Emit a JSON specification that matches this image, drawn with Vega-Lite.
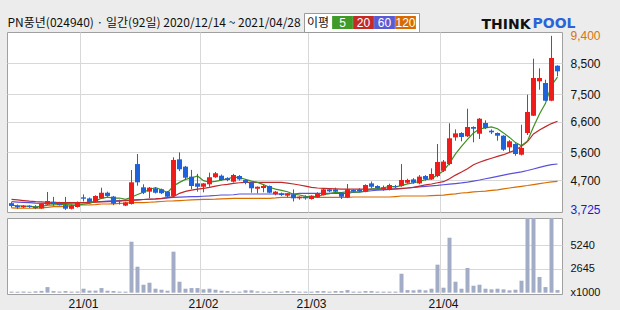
{
"$schema": "https://vega.github.io/schema/vega-lite/v6.json",
"background": "#ececec",
"padding": {"left": 6, "top": 12, "right": 21, "bottom": 2},
"spacing": 0,
"config": {
  "view": {"fill": "white", "stroke": "#a0a0a0", "strokeWidth": 1},
  "font": "Liberation Sans",
  "axis": {"gridColor": "#d8d8d8", "gridWidth": 1, "ticks": false, "domain": false, "labelColor": "#111"}
},
"datasets": {"p": [
{"d":"2020-12-14","o":3945,"h":3980,"l":3800,"c":3855,"v":120,"m5":3870,"m20":4071,"m60":3993,"m120":3790},
{"d":"2020-12-15","o":3862,"h":3900,"l":3760,"c":3810,"v":110,"m5":3860,"m20":4050,"m60":3980,"m120":3785},
{"d":"2020-12-16","o":3810,"h":3880,"l":3790,"c":3862,"v":130,"m5":3850,"m20":4030,"m60":3970,"m120":3780},
{"d":"2020-12-17","o":3862,"h":3880,"l":3790,"c":3820,"v":100,"m5":3840,"m20":4010,"m60":3960,"m120":3780},
{"d":"2020-12-18","o":3830,"h":3880,"l":3750,"c":3780,"v":150,"m5":3825,"m20":3995,"m60":3945,"m120":3780},
{"d":"2020-12-21","o":3770,"h":3930,"l":3760,"c":3918,"v":200,"m5":3838,"m20":3985,"m60":3940,"m120":3790},
{"d":"2020-12-22","o":3900,"h":4310,"l":3880,"c":4015,"v":620,"m5":3879,"m20":3975,"m60":3940,"m120":3810},
{"d":"2020-12-23","o":3990,"h":4150,"l":3860,"c":3918,"v":180,"m5":3890,"m20":3970,"m60":3940,"m120":3830},
{"d":"2020-12-24","o":3940,"h":3990,"l":3870,"c":3880,"v":130,"m5":3902,"m20":3965,"m60":3940,"m120":3830},
{"d":"2020-12-28","o":3880,"h":4150,"l":3725,"c":3765,"v":180,"m5":3899,"m20":3962,"m60":3940,"m120":3840},
{"d":"2020-12-29","o":3760,"h":3900,"l":3740,"c":3870,"v":120,"m5":3890,"m20":3960,"m60":3945,"m120":3860},
{"d":"2020-12-30","o":3820,"h":4000,"l":3800,"c":3975,"v":130,"m5":3882,"m20":3960,"m60":3950,"m120":3885},
{"d":"2021-01-04","o":4135,"h":4230,"l":4000,"c":4090,"v":440,"m5":3916,"m20":3960,"m60":3960,"m120":3885},
{"d":"2021-01-05","o":4100,"h":4130,"l":3960,"c":3985,"v":230,"m5":3937,"m20":3965,"m60":3975,"m120":3890},
{"d":"2021-01-06","o":3995,"h":4200,"l":3980,"c":4180,"v":230,"m5":4020,"m20":3975,"m60":3990,"m120":3900},
{"d":"2021-01-07","o":4100,"h":4450,"l":4090,"c":4285,"v":510,"m5":4103,"m20":3985,"m60":4000,"m120":3918},
{"d":"2021-01-08","o":4285,"h":4320,"l":4150,"c":4180,"v":220,"m5":4144,"m20":3995,"m60":4010,"m120":3918},
{"d":"2021-01-11","o":4160,"h":4180,"l":3880,"c":3930,"v":190,"m5":4112,"m20":4005,"m60":4020,"m120":3925},
{"d":"2021-01-12","o":4000,"h":4060,"l":3900,"c":3990,"v":120,"m5":4113,"m20":4015,"m60":4030,"m120":3935},
{"d":"2021-01-13","o":3865,"h":3990,"l":3850,"c":3970,"v":120,"m5":4071,"m20":4025,"m60":4040,"m120":3945},
{"d":"2021-01-14","o":3918,"h":5026,"l":3900,"c":4625,"v":5620,"m5":4139,"m20":4038,"m60":4048,"m120":3960},
{"d":"2021-01-15","o":5220,"h":5548,"l":4515,"c":4625,"v":2865,"m5":4228,"m20":4050,"m60":4055,"m120":3960},
{"d":"2021-01-18","o":4462,"h":4560,"l":4240,"c":4285,"v":880,"m5":4299,"m20":4065,"m60":4065,"m120":3965},
{"d":"2021-01-19","o":4320,"h":4470,"l":4110,"c":4450,"v":1100,"m5":4391,"m20":4075,"m60":4072,"m120":3975},
{"d":"2021-01-20","o":4430,"h":4460,"l":4260,"c":4285,"v":440,"m5":4454,"m20":4085,"m60":4080,"m120":3985},
{"d":"2021-01-21","o":4400,"h":4420,"l":4240,"c":4270,"v":330,"m5":4383,"m20":4100,"m60":4095,"m120":4000},
{"d":"2021-01-22","o":4320,"h":4340,"l":4130,"c":4155,"v":220,"m5":4289,"m20":4125,"m60":4115,"m120":4015},
{"d":"2021-01-25","o":4180,"h":5440,"l":4150,"c":5352,"v":4520,"m5":4502,"m20":4156,"m60":4136,"m120":4020},
{"d":"2021-01-26","o":5374,"h":5600,"l":4990,"c":5050,"v":1210,"m5":4622,"m20":4266,"m60":4145,"m120":4030},
{"d":"2021-01-27","o":5135,"h":5160,"l":4700,"c":4775,"v":440,"m5":4720,"m20":4330,"m60":4150,"m120":4040},
{"d":"2021-01-28","o":4810,"h":5030,"l":4400,"c":4505,"v":510,"m5":4767,"m20":4370,"m60":4155,"m120":4050},
{"d":"2021-01-29","o":4590,"h":4900,"l":4320,"c":4480,"v":510,"m5":4832,"m20":4400,"m60":4160,"m120":4060},
{"d":"2021-02-01","o":4480,"h":4600,"l":4300,"c":4590,"v":370,"m5":4680,"m20":4430,"m60":4170,"m120":4071},
{"d":"2021-02-02","o":4560,"h":4940,"l":4480,"c":4790,"v":440,"m5":4628,"m20":4460,"m60":4180,"m120":4071},
{"d":"2021-02-03","o":4790,"h":4960,"l":4770,"c":4920,"v":330,"m5":4657,"m20":4500,"m60":4195,"m120":4075},
{"d":"2021-02-04","o":4840,"h":4880,"l":4680,"c":4700,"v":220,"m5":4696,"m20":4537,"m60":4211,"m120":4085},
{"d":"2021-02-05","o":4760,"h":4790,"l":4660,"c":4700,"v":180,"m5":4740,"m20":4560,"m60":4211,"m120":4095},
{"d":"2021-02-08","o":4645,"h":4900,"l":4620,"c":4863,"v":120,"m5":4795,"m20":4592,"m60":4220,"m120":4103},
{"d":"2021-02-09","o":4830,"h":4860,"l":4680,"c":4720,"v":120,"m5":4781,"m20":4610,"m60":4244,"m120":4103},
{"d":"2021-02-10","o":4700,"h":4720,"l":4560,"c":4610,"v":260,"m5":4719,"m20":4625,"m60":4244,"m120":4103},
{"d":"2021-02-15","o":4625,"h":4640,"l":4286,"c":4430,"v":260,"m5":4665,"m20":4625,"m60":4244,"m120":4103},
{"d":"2021-02-16","o":4415,"h":4490,"l":4265,"c":4480,"v":150,"m5":4621,"m20":4625,"m60":4244,"m120":4103},
{"d":"2021-02-17","o":4440,"h":4540,"l":4300,"c":4505,"v":120,"m5":4549,"m20":4625,"m60":4244,"m120":4103},
{"d":"2021-02-18","o":4505,"h":4520,"l":4270,"c":4286,"v":100,"m5":4462,"m20":4625,"m60":4244,"m120":4103},
{"d":"2021-02-19","o":4234,"h":4340,"l":4200,"c":4320,"v":180,"m5":4404,"m20":4625,"m60":4244,"m120":4115},
{"d":"2021-02-22","o":4265,"h":4290,"l":4180,"c":4210,"v":120,"m5":4360,"m20":4620,"m60":4244,"m120":4136},
{"d":"2021-02-23","o":4190,"h":4270,"l":4140,"c":4265,"v":180,"m5":4317,"m20":4600,"m60":4244,"m120":4136},
{"d":"2021-02-24","o":4234,"h":4395,"l":4000,"c":4103,"v":180,"m5":4237,"m20":4570,"m60":4244,"m120":4136},
{"d":"2021-02-25","o":4103,"h":4170,"l":4060,"c":4155,"v":120,"m5":4211,"m20":4537,"m60":4266,"m120":4136},
{"d":"2021-02-26","o":4155,"h":4200,"l":4060,"c":4103,"v":120,"m5":4167,"m20":4500,"m60":4266,"m120":4136},
{"d":"2021-03-02","o":4080,"h":4200,"l":4060,"c":4190,"v":120,"m5":4163,"m20":4460,"m60":4266,"m120":4136},
{"d":"2021-03-03","o":4135,"h":4300,"l":4120,"c":4265,"v":180,"m5":4163,"m20":4440,"m60":4266,"m120":4136},
{"d":"2021-03-04","o":4210,"h":4420,"l":4200,"c":4395,"v":180,"m5":4222,"m20":4430,"m60":4266,"m120":4136},
{"d":"2021-03-05","o":4395,"h":4440,"l":4300,"c":4330,"v":120,"m5":4257,"m20":4420,"m60":4266,"m120":4136},
{"d":"2021-03-08","o":4395,"h":4450,"l":4290,"c":4320,"v":180,"m5":4300,"m20":4410,"m60":4266,"m120":4136},
{"d":"2021-03-09","o":4290,"h":4300,"l":4080,"c":4155,"v":180,"m5":4293,"m20":4400,"m60":4266,"m120":4136},
{"d":"2021-03-10","o":4130,"h":4570,"l":4110,"c":4400,"v":290,"m5":4320,"m20":4400,"m60":4266,"m120":4136},
{"d":"2021-03-11","o":4374,"h":4400,"l":4300,"c":4320,"v":120,"m5":4305,"m20":4400,"m60":4300,"m120":4146},
{"d":"2021-03-12","o":4390,"h":4430,"l":4300,"c":4330,"v":120,"m5":4305,"m20":4400,"m60":4310,"m120":4146},
{"d":"2021-03-15","o":4320,"h":4560,"l":4300,"c":4537,"v":180,"m5":4348,"m20":4400,"m60":4330,"m120":4146},
{"d":"2021-03-16","o":4590,"h":4650,"l":4440,"c":4480,"v":180,"m5":4413,"m20":4400,"m60":4350,"m120":4146},
{"d":"2021-03-17","o":4505,"h":4530,"l":4410,"c":4430,"v":120,"m5":4419,"m20":4400,"m60":4370,"m120":4146},
{"d":"2021-03-18","o":4400,"h":4520,"l":4350,"c":4460,"v":120,"m5":4447,"m20":4400,"m60":4380,"m120":4146},
{"d":"2021-03-19","o":4374,"h":4580,"l":4360,"c":4537,"v":120,"m5":4489,"m20":4405,"m60":4395,"m120":4146},
{"d":"2021-03-22","o":4500,"h":4540,"l":4440,"c":4470,"v":120,"m5":4475,"m20":4410,"m60":4410,"m120":4160},
{"d":"2021-03-23","o":4505,"h":5220,"l":4480,"c":4700,"v":2090,"m5":4519,"m20":4420,"m60":4425,"m120":4178},
{"d":"2021-03-24","o":4610,"h":4740,"l":4580,"c":4700,"v":290,"m5":4573,"m20":4440,"m60":4440,"m120":4178},
{"d":"2021-03-25","o":4720,"h":4760,"l":4580,"c":4610,"v":260,"m5":4603,"m20":4460,"m60":4460,"m120":4178},
{"d":"2021-03-26","o":4590,"h":4860,"l":4560,"c":4810,"v":330,"m5":4658,"m20":4500,"m60":4475,"m120":4178},
{"d":"2021-03-29","o":4830,"h":4860,"l":4680,"c":4720,"v":260,"m5":4708,"m20":4540,"m60":4490,"m120":4178},
{"d":"2021-03-30","o":4720,"h":5080,"l":4700,"c":4895,"v":440,"m5":4747,"m20":4570,"m60":4510,"m120":4190},
{"d":"2021-03-31","o":4830,"h":5874,"l":4790,"c":5287,"v":3090,"m5":4864,"m20":4610,"m60":4525,"m120":4200},
{"d":"2021-04-01","o":5000,"h":5352,"l":4960,"c":5300,"v":550,"m5":5002,"m20":4645,"m60":4545,"m120":4210},
{"d":"2021-04-02","o":5220,"h":6550,"l":5180,"c":6060,"v":6060,"m5":5252,"m20":4740,"m60":4565,"m120":4230},
{"d":"2021-04-05","o":6090,"h":6350,"l":5980,"c":6220,"v":1210,"m5":5552,"m20":4860,"m60":4585,"m120":4250},
{"d":"2021-04-06","o":6232,"h":6260,"l":5962,"c":6102,"v":440,"m5":5794,"m20":4960,"m60":4605,"m120":4276},
{"d":"2021-04-07","o":6125,"h":7024,"l":6100,"c":6428,"v":2720,"m5":6022,"m20":5070,"m60":4630,"m120":4290},
{"d":"2021-04-08","o":6428,"h":6450,"l":5929,"c":6372,"v":770,"m5":6236,"m20":5200,"m60":4665,"m120":4310},
{"d":"2021-04-09","o":6209,"h":6720,"l":6037,"c":6698,"v":880,"m5":6364,"m20":5280,"m60":4700,"m120":4325},
{"d":"2021-04-12","o":6558,"h":6646,"l":6360,"c":6395,"v":440,"m5":6399,"m20":5350,"m60":4740,"m120":4340},
{"d":"2021-04-13","o":6307,"h":6350,"l":6200,"c":6255,"v":370,"m5":6430,"m20":5410,"m60":4780,"m120":4360},
{"d":"2021-04-14","o":6232,"h":6250,"l":5981,"c":6144,"v":440,"m5":6373,"m20":5470,"m60":4820,"m120":4380},
{"d":"2021-04-15","o":6144,"h":6160,"l":5650,"c":5688,"v":370,"m5":6236,"m20":5525,"m60":4860,"m120":4410},
{"d":"2021-04-16","o":5766,"h":6000,"l":5580,"c":5962,"v":260,"m5":6089,"m20":5600,"m60":4900,"m120":4440},
{"d":"2021-04-19","o":5874,"h":5900,"l":5492,"c":5548,"v":330,"m5":5919,"m20":5680,"m60":4935,"m120":4470},
{"d":"2021-04-20","o":5525,"h":6503,"l":5500,"c":5743,"v":1320,"m5":5817,"m20":5800,"m60":4965,"m120":4495},
{"d":"2021-04-21","o":6232,"h":7481,"l":6167,"c":6917,"v":8800,"m5":5972,"m20":5950,"m60":5010,"m120":4520},
{"d":"2021-04-22","o":6796,"h":8654,"l":6786,"c":8025,"v":9500,"m5":6439,"m20":6200,"m60":5060,"m120":4550},
{"d":"2021-04-23","o":7918,"h":8340,"l":7644,"c":8025,"v":1730,"m5":6852,"m20":6330,"m60":5110,"m120":4580},
{"d":"2021-04-26","o":7862,"h":7970,"l":7270,"c":7285,"v":620,"m5":7199,"m20":6440,"m60":5160,"m120":4610},
{"d":"2021-04-27","o":7285,"h":9400,"l":7270,"c":8677,"v":9000,"m5":7786,"m20":6540,"m60":5200,"m120":4640},
{"d":"2021-04-28","o":8426,"h":8440,"l":8080,"c":8243,"v":290,"m5":8051,"m20":6614,"m60":5222,"m120":4657}
]},
"vconcat": [
{
  "width": 555, "height": 180,
  "data": {"name": "p"},
  "resolve": {"axis": {"x": "independent"}},
  "layer": [
    {
      "transform": [{"fold": ["m120", "m60", "m20", "m5"], "as": ["k", "val"]}],
      "mark": {"type": "line", "strokeWidth": 1.2, "clip": true},
      "encoding": {
        "x": {"field": "d", "type": "ordinal", "scale": {"paddingInner": 0, "paddingOuter": 0.25},
          "axis": {"orient": "top", "values": ["2021-01-04","2021-02-01","2021-03-02","2021-04-01"], "bandPosition": 0, "labels": false, "grid": true,
            "title": "PN풍년(024940) · 일간(92일) 2020/12/14 ~ 2021/04/28", "titleX": 0, "titleY": -6, "titleAnchor": "start", "titleAlign": "left", "titleBaseline": "alphabetic",
            "titleFont": "Noto Sans CJK KR", "titleFontSize": 12, "titleFontWeight": "normal", "titleColor": "#111"}},
        "y": {"field": "val", "type": "quantitative", "scale": {"domain": [3657, 9525], "nice": false, "zero": false},
          "axis": {"orient": "right", "values": [3725, 4700, 5600, 6600, 7500, 8500, 9400], "tickCount": 20, "format": ",d", "labelFontSize": 12, "labelPadding": 8, "labelOverlap": false, "grid": true,
            "gridColor": {"condition": {"test": "datum.value == 3725 || datum.value == 9400", "value": "rgba(0,0,0,0)"}, "value": "#d8d8d8"},
            "labelColor": {"condition": [{"test": "datum.value == 9400", "value": "#d9730d"}, {"test": "datum.value == 3725", "value": "#1c1ccc"}], "value": "#111"},
            "title": "THINK", "titleAngle": 0, "titleX": -81, "titleY": -4, "titleAlign": "left", "titleBaseline": "alphabetic", "titleFont": "DejaVu Sans", "titleFontSize": 14, "titleFontWeight": "bold", "titleColor": "#111"}},
        "color": {"field": "k", "type": "nominal",
          "scale": {"domain": ["m5", "m20", "m60", "m120"], "range": ["#3f8f22", "#c0282a", "#5a50dc", "#d96c00"]},
          "legend": {"orient": "none", "legendX": 297, "legendY": -19, "direction": "horizontal",
            "title": "이평", "titleOrient": "left", "titleFont": "Noto Sans CJK KR", "titleFontSize": 12, "titleFontWeight": "normal", "titleColor": "#111", "titlePadding": 6,
            "symbolType": "M-1.6,-1H1.6V1H-1.6Z", "symbolSize": 169, "symbolStrokeWidth": 0,
            "labelAlign": "center", "labelOffset": -6.5, "labelColor": "white", "labelFont": "Liberation Sans", "labelFontSize": 12,
            "labelExpr": "replace(datum.label, 'm', '')",
            "columnPadding": 0, "padding": 3, "fillColor": "white", "strokeColor": "#9a9a9a",
            "encode": {"symbols": {"update": {"fill": {"signal": "datum.value == 'm5' ? '#3f9a2a' : datum.value == 'm20' ? '#c42a26' : datum.value == 'm60' ? '#5a5ad2' : '#d96a00'"}, "fillOpacity": {"value": 1}, "opacity": {"value": 1}}}}}
        }
      }
    },
    {
      "mark": {"type": "rule", "strokeWidth": 1},
      "encoding": {
        "x": {"field": "d", "type": "ordinal", "scale": {"paddingInner": 0, "paddingOuter": 0.25},
          "axis": {"orient": "bottom", "labels": false, "grid": false, "values": ["2021-01-04"],
            "title": "POOL", "titleX": 525, "titleY": -185, "titleAnchor": "start", "titleAlign": "left", "titleBaseline": "alphabetic", "titleFont": "DejaVu Sans", "titleFontSize": 14, "titleFontWeight": "bold", "titleColor": "#2864d8"}},
        "y": {"field": "l", "type": "quantitative", "scale": {"domain": [3657, 9525], "nice": false, "zero": false}},
        "y2": {"field": "h"},
        "color": {"condition": {"test": "datum.c >= datum.o", "value": "#f01c1c"}, "value": "#1f63dc"}
      }
    },
    {
      "mark": {"type": "bar", "size": 5},
      "encoding": {
        "x": {"field": "d", "type": "ordinal", "scale": {"paddingInner": 0, "paddingOuter": 0.25}, "axis": null},
        "y": {"field": "o", "type": "quantitative", "scale": {"domain": [3657, 9525], "nice": false, "zero": false}},
        "y2": {"field": "c"},
        "color": {"condition": {"test": "datum.c >= datum.o", "value": "#f01c1c"}, "value": "#1f63dc"}
      }
    }
  ]
},
{
  "width": 555, "height": 76,
  "data": {"name": "p"},
  "mark": {"type": "bar", "size": 4, "clip": true, "color": "#a3acc6"},
  "encoding": {
    "x": {"field": "d", "type": "ordinal", "scale": {"paddingInner": 0, "paddingOuter": 0.25},
      "axis": {"orient": "bottom", "values": ["2021-01-04","2021-02-01","2021-03-02","2021-04-01"], "bandPosition": 0, "grid": true,
        "labelExpr": "slice(datum.value, 2, 4) + '/' + slice(datum.value, 5, 7)", "labelFontSize": 12, "labelPadding": 4, "labelAngle": 0, "title": null}},
    "y": {"field": "v", "type": "quantitative", "scale": {"domain": [-143, 8232], "nice": false, "zero": false},
      "axis": {"orient": "right", "values": [0, 2645, 5240], "tickCount": 10, "format": "d", "labelExpr": "datum.value == 0 ? 'x1000' : datum.label", "labelFontSize": 11, "labelPadding": 8, "grid": true,
        "gridColor": {"condition": {"test": "datum.value == 0", "value": "rgba(0,0,0,0)"}, "value": "#d8d8d8"}, "title": null}},
    "y2": {"datum": 0}
  }
}
]
}
